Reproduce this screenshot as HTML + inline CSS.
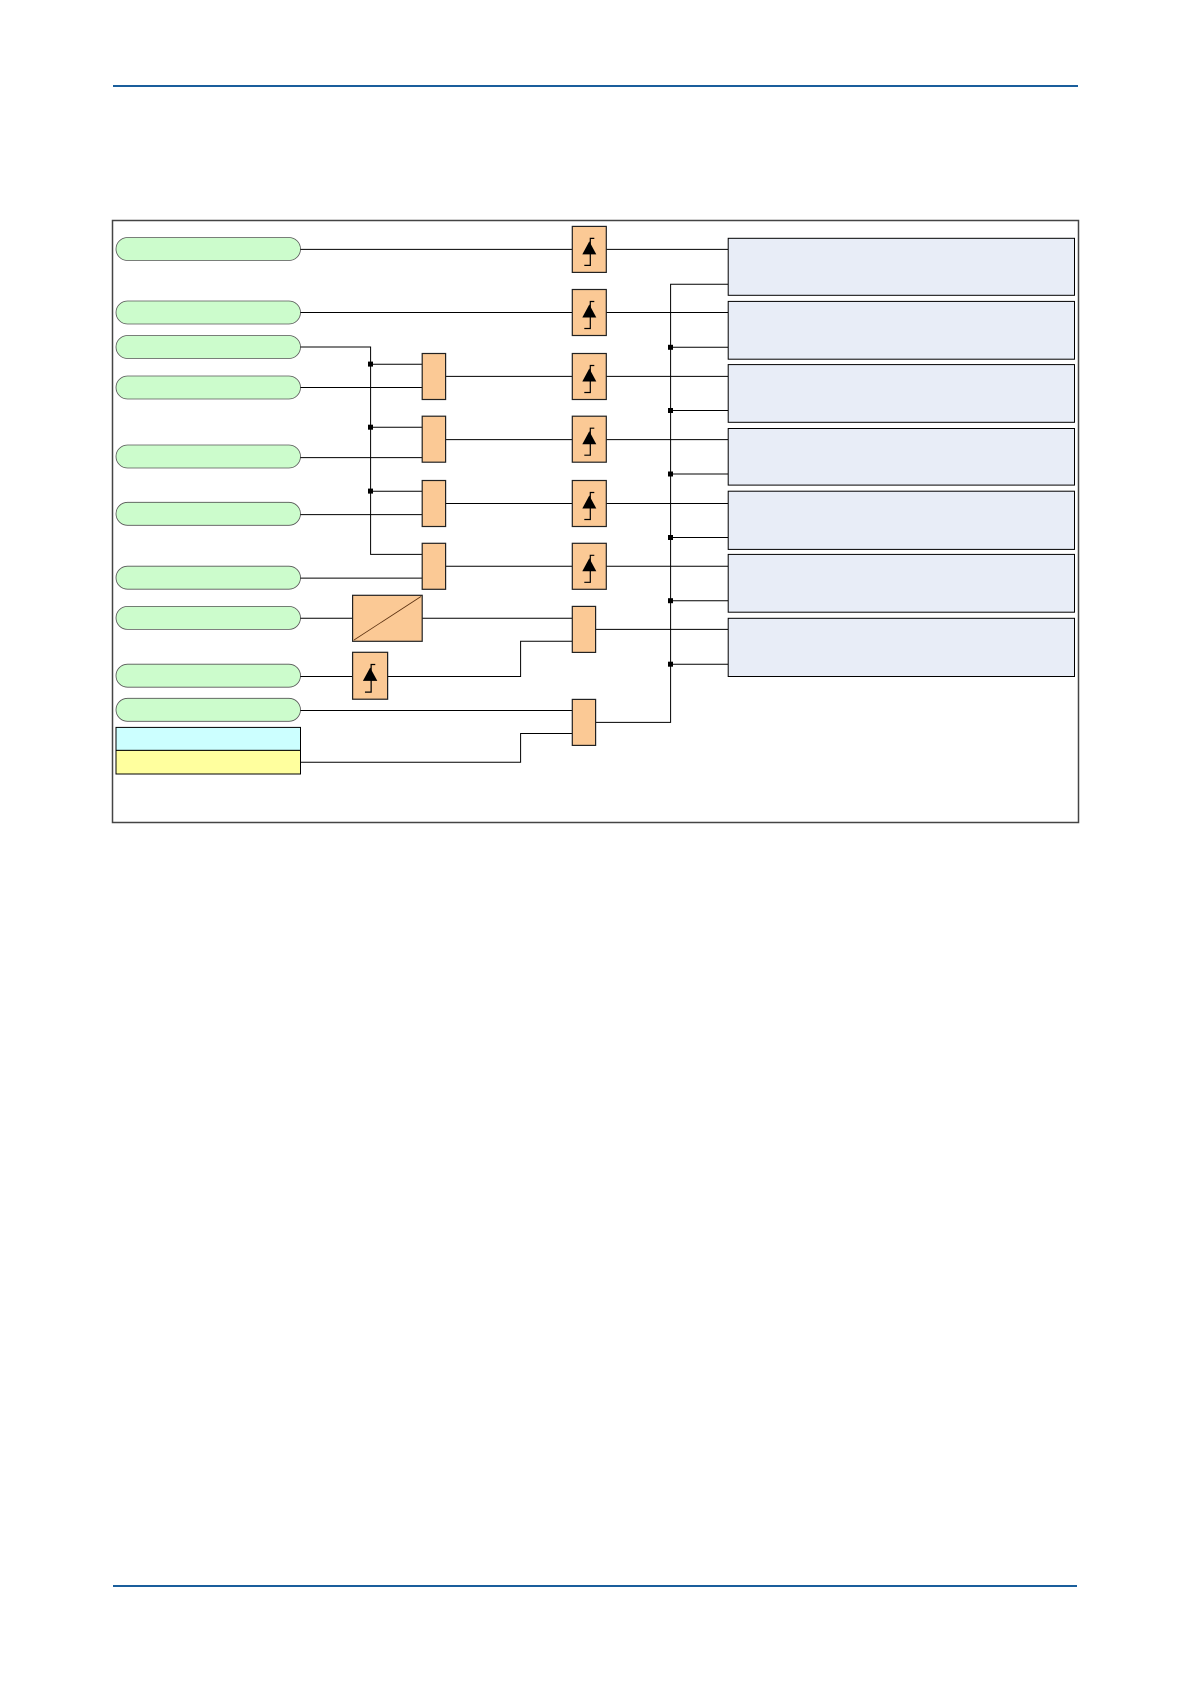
<!DOCTYPE html>
<html><head><meta charset="utf-8"><style>
html,body{margin:0;padding:0;background:#fff;}
svg{display:block;}
</style></head><body>
<svg width="1191" height="1684" viewBox="0 0 1191 1684" xmlns="http://www.w3.org/2000/svg" font-family="Liberation Sans, sans-serif">
<defs>
<g id="dio">
<rect x="0" y="0" width="34" height="46" fill="#fbc995" stroke="#222" stroke-width="1.2"/>
<polyline points="22,12 18,12 18,39 12,39" fill="none" stroke="#000" stroke-width="1.2"/>
<polygon points="17,15 10,28 24,28" fill="#000"/>
</g>
</defs>
<line x1="113" y1="86" x2="1078" y2="86" stroke="#1a5e9c" stroke-width="2"/>
<line x1="113" y1="1586" x2="1077" y2="1586" stroke="#1a5e9c" stroke-width="2"/>
<rect x="112.5" y="220.5" width="966" height="602" fill="none" stroke="#444" stroke-width="1.5"/>

<g fill="#ccfccc" stroke="#555" stroke-width="0.8">
<rect x="116" y="237.5" width="184.5" height="23" rx="11.5"/>
<rect x="116" y="301" width="184.5" height="23" rx="11.5"/>
<rect x="116" y="335.5" width="184.5" height="23" rx="11.5"/>
<rect x="116" y="376" width="184.5" height="23" rx="11.5"/>
<rect x="116" y="445" width="184.5" height="23" rx="11.5"/>
<rect x="116" y="502.3" width="184.5" height="23" rx="11.5"/>
<rect x="116" y="566.2" width="184.5" height="23" rx="11.5"/>
<rect x="116" y="606.4" width="184.5" height="23" rx="11.5"/>
<rect x="116" y="664.2" width="184.5" height="23" rx="11.5"/>
<rect x="116" y="698.3" width="184.5" height="23" rx="11.5"/>
</g>
<rect x="116" y="727.4" width="184.5" height="23" fill="#ccffff" stroke="#000" stroke-width="1"/>
<rect x="116" y="750.4" width="184.5" height="23.6" fill="#ffff9e" stroke="#000" stroke-width="1"/>

<g stroke="#000" stroke-width="1" fill="none">
<line x1="300.5" y1="249.4" x2="572" y2="249.4"/>
<line x1="300.5" y1="312.5" x2="572" y2="312.5"/>
<polyline points="300.5,347 370.6,347 370.6,554.4 422,554.4"/>
<line x1="370.6" y1="364.2" x2="422" y2="364.2"/>
<line x1="370.6" y1="427.3" x2="422" y2="427.3"/>
<line x1="370.6" y1="491.2" x2="422" y2="491.2"/>
<line x1="300.5" y1="387.5" x2="422" y2="387.5"/>
<line x1="300.5" y1="457.6" x2="422" y2="457.6"/>
<line x1="300.5" y1="514.6" x2="422" y2="514.6"/>
<line x1="300.5" y1="578.1" x2="422" y2="578.1"/>
<line x1="445.6" y1="376.4" x2="572" y2="376.4"/>
<line x1="445.6" y1="439.6" x2="572" y2="439.6"/>
<line x1="445.6" y1="503.5" x2="572" y2="503.5"/>
<line x1="445.6" y1="566.2" x2="572" y2="566.2"/>
<line x1="300.5" y1="618.3" x2="352.6" y2="618.3"/>
<line x1="422.2" y1="618.3" x2="572" y2="618.3"/>
<line x1="300.5" y1="676.5" x2="352.6" y2="676.5"/>
<polyline points="387.4,676.5 520.6,676.5 520.6,641.3 572,641.3"/>
<line x1="300.5" y1="710.5" x2="572" y2="710.5"/>
<polyline points="300.5,762.2 520.6,762.2 520.6,733.5 572,733.5"/>
<!-- right -->
<line x1="606" y1="249.4" x2="728" y2="249.4"/>
<line x1="606" y1="312.5" x2="728" y2="312.5"/>
<line x1="606" y1="376.4" x2="728" y2="376.4"/>
<line x1="606" y1="439.6" x2="728" y2="439.6"/>
<line x1="606" y1="503.5" x2="728" y2="503.5"/>
<line x1="606" y1="566.2" x2="728" y2="566.2"/>
<line x1="595.6" y1="629.4" x2="728" y2="629.4"/>
<polyline points="595.6,722.4 670.6,722.4 670.6,284.2 728,284.2"/>
<line x1="670.6" y1="347.3" x2="728" y2="347.3"/>
<line x1="670.6" y1="410.5" x2="728" y2="410.5"/>
<line x1="670.6" y1="474" x2="728" y2="474"/>
<line x1="670.6" y1="537.5" x2="728" y2="537.5"/>
<line x1="670.6" y1="600.7" x2="728" y2="600.7"/>
<line x1="670.6" y1="664.2" x2="728" y2="664.2"/>
</g>
<g fill="#000">
<rect x="368" y="361.6" width="5" height="5"/>
<rect x="368" y="424.7" width="5" height="5"/>
<rect x="368" y="488.6" width="5" height="5"/>
<rect x="668" y="344.8" width="5" height="5"/>
<rect x="668" y="408" width="5" height="5"/>
<rect x="668" y="471.5" width="5" height="5"/>
<rect x="668" y="535" width="5" height="5"/>
<rect x="668" y="598.2" width="5" height="5"/>
<rect x="668" y="661.7" width="5" height="5"/>
</g>

<g fill="#fbc995" stroke="#222" stroke-width="1.2">
<rect x="422.2" y="353.5" width="23.4" height="46"/>
<rect x="422.2" y="416.2" width="23.4" height="46"/>
<rect x="422.2" y="480.5" width="23.4" height="46"/>
<rect x="422.2" y="543.3" width="23.4" height="46"/>
<rect x="572.3" y="606.4" width="23.3" height="46"/>
<rect x="572.3" y="699.4" width="23.3" height="46"/>
<rect x="352.6" y="595.3" width="69.6" height="46"/>
</g>
<line x1="354" y1="640" x2="421" y2="596.5" stroke="#5a3010" stroke-width="0.8"/>

<use href="#dio" x="572.3" y="226.4"/>
<use href="#dio" x="572.3" y="289.5"/>
<use href="#dio" x="572.3" y="353.5"/>
<use href="#dio" x="572.3" y="416.2"/>
<use href="#dio" x="572.3" y="480.5"/>
<use href="#dio" x="572.3" y="543.3"/>
<use href="#dio" x="352.6" y="652.3" transform="translate(352.6 652.3) scale(1.03 1.02) translate(-352.6 -652.3)"/>

<g fill="#e8edf7" stroke="#000" stroke-width="1">
<rect x="728.2" y="238.3" width="346.3" height="57"/>
<rect x="728.2" y="301.4" width="346.3" height="57.8"/>
<rect x="728.2" y="364.6" width="346.3" height="57.7"/>
<rect x="728.2" y="428.5" width="346.3" height="56.6"/>
<rect x="728.2" y="491.2" width="346.3" height="58.2"/>
<rect x="728.2" y="554.4" width="346.3" height="57.8"/>
<rect x="728.2" y="618.3" width="346.3" height="58.2"/>
</g>
</svg>
</body></html>
